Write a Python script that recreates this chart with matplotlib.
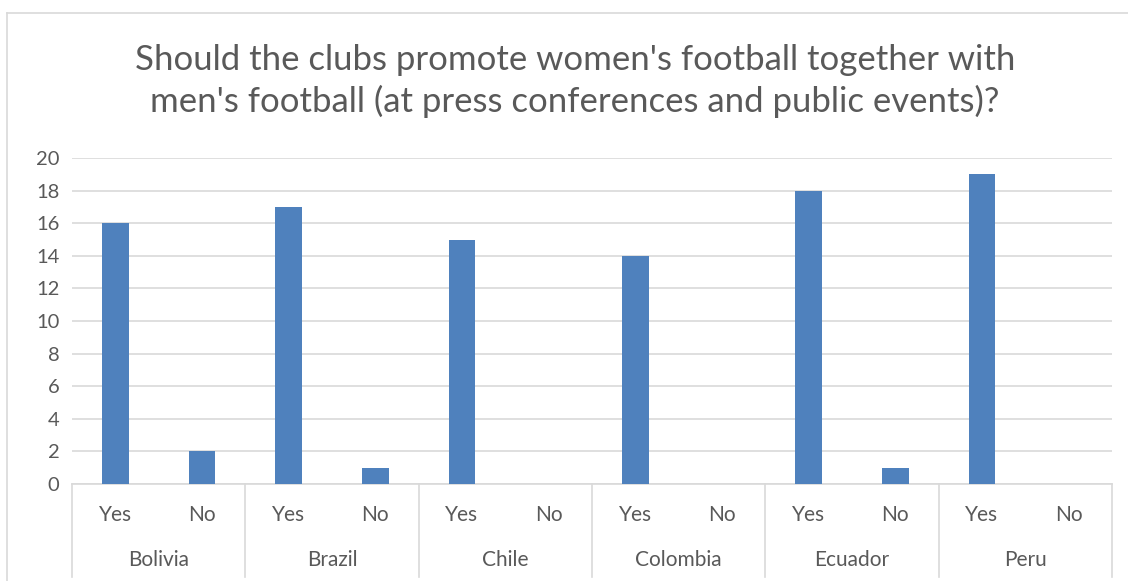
import numpy as np
import matplotlib
matplotlib.use("Agg")
import matplotlib.pyplot as plt
from matplotlib.lines import Line2D

countries = ["Bolivia", "Brazil", "Chile", "Colombia", "Ecuador", "Peru"]
answers = ["Yes", "No"]
yes_counts = [16, 17, 15, 14, 18, 19]
no_counts = [2, 1, 0, 0, 1, 0]
y_ticks = list(range(0, 21, 2))

BAR_COLOR = "#4F81BD"
TEXT_COLOR = "#595959"
GRID_COLOR = "#D9D9D9"

plt.rcParams["font.family"] = ["Lato", "DejaVu Sans"]

fig = plt.figure(figsize=(11.28, 5.81), dpi=100)
ax = fig.add_axes([72 / 1128, 1 - 484 / 581, (1112 - 72) / 1128, 326 / 581])

# interleave yes/no so each country has two slots
values = []
labels = []
for y, n in zip(yes_counts, no_counts):
    values += [y, n]
    labels += answers
x = np.arange(len(values))
ax.bar(x, values, width=0.31, color=BAR_COLOR, zorder=3)

ax.set_xlim(-0.5, len(values) - 0.5)
ax.set_ylim(0, 20)
ax.set_yticks(y_ticks)
ax.tick_params(axis="y", length=0, labelsize=14.5, colors=TEXT_COLOR, pad=9)
ax.set_xticks([])
ax.grid(axis="y", color=GRID_COLOR, linewidth=1.2, zorder=0)
for side in ["top", "right", "left"]:
    ax.spines[side].set_visible(False)
ax.spines["bottom"].set_color(GRID_COLOR)
ax.spines["bottom"].set_linewidth(1.2)

trans = ax.get_xaxis_transform()
for xi, lab in zip(x, labels):
    ax.text(xi, -0.095, lab, transform=trans, ha="center", va="center",
            fontsize=15, color=TEXT_COLOR)
for i, c in enumerate(countries):
    ax.text(2 * i + 0.5, -0.233, c, transform=trans, ha="center", va="center",
            fontsize=15, color=TEXT_COLOR)
for i in range(len(countries) + 1):
    ax.add_line(Line2D([2 * i - 0.5, 2 * i - 0.5], [0, -0.285], transform=trans,
                       color=GRID_COLOR, linewidth=1.2, clip_on=False))

fig.text(575 / 1128, 1 - 81 / 581,
         "Should the clubs promote women's football together with\n"
         "men's football (at press conferences and public events)?",
         ha="center", va="center", fontsize=25, color=TEXT_COLOR, linespacing=1.35)

# chart border (cut off at right and bottom)
fig.add_artist(Line2D([7 / 1128, 7 / 1128], [0, 1 - 13 / 581], transform=fig.transFigure,
                      color=GRID_COLOR, linewidth=1.2))
fig.add_artist(Line2D([7 / 1128, 1], [1 - 13 / 581, 1 - 13 / 581], transform=fig.transFigure,
                      color=GRID_COLOR, linewidth=1.2))

fig.savefig("out.png", dpi=100)
